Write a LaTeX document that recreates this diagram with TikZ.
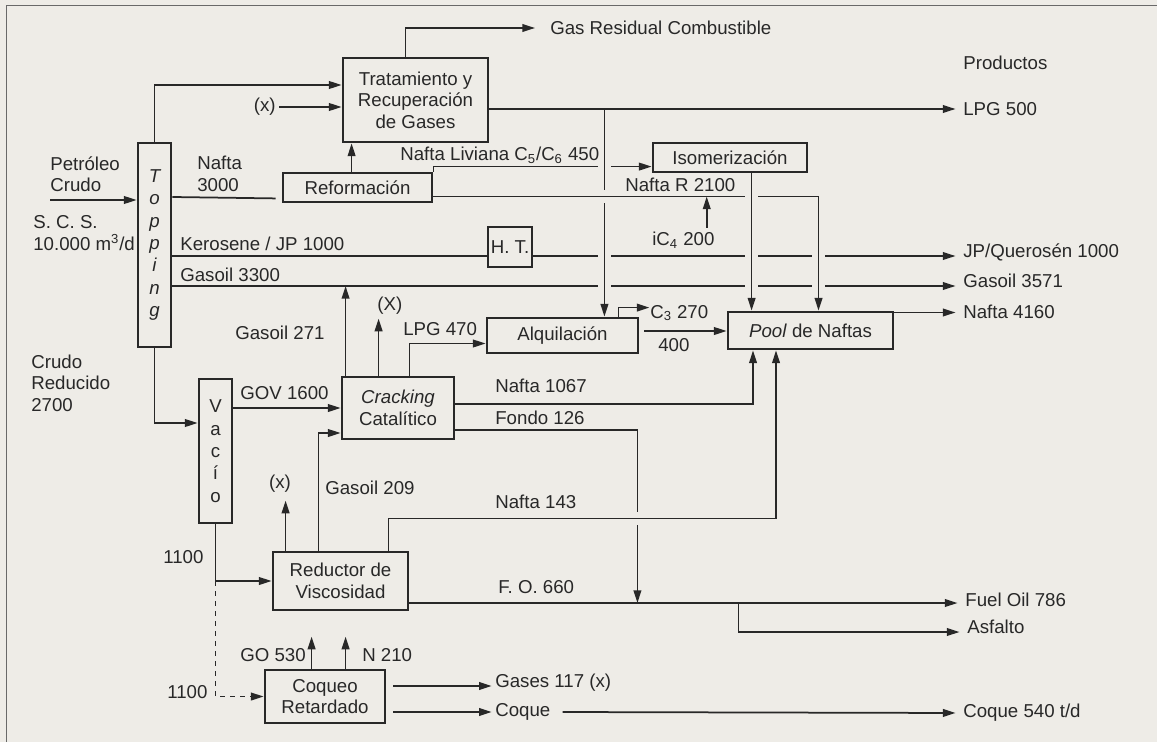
\documentclass[tikz,border=0pt]{standalone}
\usepackage{fontspec}
\setmainfont{Liberation Sans}
\usepackage{xcolor}
\usetikzlibrary{arrows.meta,calc}

\definecolor{paper}{RGB}{238,236,231}
\definecolor{ink}{RGB}{40,40,40}
\newcommand\pxu{0.6pt}
\pgfdeclarelayer{labels}
\pgfsetlayers{main,labels}

\begin{document}
\begin{tikzpicture}[
  x=0.6pt, y=-0.6pt, color=ink,
  font=\fontsize{11.2}{12.9}\selectfont,
  unit/.style 2 args={draw, line width=1.7pt, align=center, inner sep=0pt,
    minimum width=#1*\pxu, minimum height=#2*\pxu},
  tower/.style={unit={33}{#1}, font=\fontsize{11.2}{13.4}\selectfont},
  lbl/.style={anchor=west, inner sep=0pt, align=left},
  pipe/.style={draw, line width=1.05pt},
  flow/.style={pipe, -{Triangle[length=7.6pt, width=4.6pt]}},
  prod/.style={flow, shorten >=4.5pt},
  bridge/.style={preaction={draw=paper, line width=8pt, shorten <=5pt, shorten >=5pt, -}}
]
\fill[paper] (0,0) rectangle (1157,742);
\useasboundingbox (0,0) rectangle (1157,742);
\draw[ink!70, line width=0.6pt] (6,742) -- (6,6) -- (1157,6);

% process units
\node[tower=204, font=\fontsize{11.2}{13.4}\selectfont\itshape] (top) at (154.5,245) {T\\o\\p\\p\\i\\n\\g};
\node[tower=144] (vac) at (215.5,451) {V\\a\\c\\í\\o};
\node[unit={145}{84}] (trat) at (415.5,100) {Tratamiento y\\Recuperación\\de Gases};
\node[unit={149}{29}] (refor) at (357.5,187.5) {Reformación};
\node[unit={154}{29}] (isom) at (730,157.5) {Isomerización};
\node[unit={44}{40}] (ht) at (510,247) {H. T.};
\node[unit={151}{35}] (alq) at (562.5,335.5) {Alquilación};
\node[unit={165}{37}] (pool) at (810.5,330.5) {\textit{Pool} de Naftas};
\node[unit={112}{62}] (crack) at (398,408) {\textit{Cracking}\\Catalítico};
\node[unit={135}{58}] (red) at (340.5,581) {Reductor de\\Viscosidad};
\node[unit={120}{53}] (coq) at (325,696.5) {Coqueo\\Retardado};

% stream labels
\begin{pgfonlayer}{labels}
\node[lbl] (gasres) at (550,28) {Gas Residual Combustible};
\node[lbl] (prodt) at (963,63) {Productos};
\node[lbl] (lpgo) at (963,109) {LPG 500};
\node[lbl, anchor=east] (xtop) at (276,107) {(x)};
\node[lbl] (nliv) at (400,155) {Nafta Liviana C\textsubscript{5}/C\textsubscript{6} 450};
\node[lbl] (petro) at (50,174) {Petróleo\\Crudo};
\node[lbl] (n3000) at (197,174) {Nafta\\3000};
\node[lbl] (nr2100) at (625,185) {Nafta R 2100};
\node[lbl] (scs) at (33,233) {S. C. S.\\10.000 m\textsuperscript{3}/d};
\node[lbl] (kero) at (180,244) {Kerosene / JP 1000};
\node[lbl] (ic4) at (652,240) {iC\textsubscript{4} 200};
\node[lbl] (jpq) at (963,252) {JP/Querosén 1000};
\node[lbl] (g3300) at (180,275) {Gasoil 3300};
\node[lbl] (g3571) at (963,281) {Gasoil 3571};
\node[lbl] (xcr) at (377,306) {(X)};
\node[lbl] (n4160) at (963,312) {Nafta 4160};
\node[lbl] (c3) at (650,313) {C\textsubscript{3} 270};
\node[lbl] (lpg470) at (403,329) {LPG 470};
\node[lbl] (g271) at (235,333) {Gasoil 271};
\node[lbl] (l400) at (658,345) {400};
\node[lbl] (crred) at (31,383) {Crudo\\Reducido\\2700};
\node[lbl] (gov) at (240,393) {GOV 1600};
\node[lbl] (n1067) at (495,386) {Nafta 1067};
\node[lbl] (fondo) at (495,418) {Fondo 126};
\node[lbl, anchor=center] (xred) at (280,484) {(x)};
\node[lbl] (g209) at (325,488) {Gasoil 209};
\node[lbl] (n143) at (495,502) {Nafta 143};
\node[lbl] (v1100) at (163,557) {1100};
\node[lbl] (fo660) at (498,587) {F. O. 660};
\node[lbl] (fuel) at (965,600) {Fuel Oil 786};
\node[lbl] (asf) at (967,627) {Asfalto};
\node[lbl] (go530) at (240,655) {GO 530};
\node[lbl] (n210) at (362,655) {N 210};
\node[lbl] (c1100) at (167,692) {1100};
\node[lbl] (gases) at (495,683) {Gases 117 (x)};
\node[lbl] (coque) at (495,712) {Coque};
\node[lbl] (coque540) at (963,713) {Coque 540 t/d};
\end{pgfonlayer}

% topping
\coordinate (crin) at (50,200);
\draw[flow] (crin) -- (crin -| top.west);
\draw[flow] (top.north) |- ($(trat.west)+(0,-15)$);
\draw[flow] ($(xtop.east)+(3,0)$) -- (xtop.east -| trat.west);
\draw[prod, shorten >=9pt] ($(trat.north west)+(64,0)$) |- (gasres.west);
\draw[prod] (lpgo.west -| trat.east) -- (lpgo.west);
\draw[flow] ($(refor.north west)+(70,0)$) -- ($(trat.south west)+(10,0)$);
\draw[pipe] ($(top.east)+(0,-48)$) -- ($(refor.south west)+(-6,-5)$);
\coordinate (ker) at ($(top.east)+(0,11)$);
\coordinate (gas) at ($(top.east)+(0,41)$);
\draw[pipe] (ker) -- (ker -| ht.west);
\draw[prod] (ker -| ht.east) -- (ker -| jpq.west);
\draw[prod] (gas) -- (gas -| g3571.west);
\draw[flow] (refor.north east) -- ++(0,-5) coordinate (liv) -- (liv -| isom.west);

% crossings (later lines break earlier ones)
\coordinate (tap) at ($(lpgo.west -| trat.east)+(115,0)$);
\draw[flow, bridge] (tap) -- (tap |- alq.north);
\coordinate (nrl) at ($(refor.east)+(0,9)$);
\draw[flow, bridge] (nrl) -| ($(pool.north)+(8,0)$);
\draw[flow, bridge] ($(isom.south west)+(100,0)$) coordinate (isd) -- (isd |- pool.north);
\draw[flow] ($(ic4.north east)+(-8,-4)$) coordinate (ica) -- (ica |- nrl);
\draw[prod] ($(pool.east)+(0,-18)$) coordinate (pe) -- (pe -| n4160.west);

% alquilacion
\draw[flow] ($(alq.north east)+(-21,0)$) |- ++(31,-9);
\draw[flow] ($(alq.east)+(5,-4.5)$) coordinate (alo) -- (alo -| pool.west);

% vacio and cracking
\draw[flow] (top.south) |- ($(vac.west)+(0,-28)$);
\draw[flow] ($(vac.east)+(0,-43)$) -- (crack.west);
\draw[flow] ($(crack.north west)+(5,0)$) coordinate (c271) -- (c271 |- gas);
\draw[flow] ($(crack.north west)+(38,0)$) -- ++(0,-57);
\draw[flow] ($(crack.north west)+(69,0)$) |- ($(alq.west)+(0,8)$);
\draw[flow] ($(crack.east)+(0,-4)$) -| ($(pool.south)+(-57.5,0)$);
\coordinate (fol) at ($(red.east)+(0,22)$);
\draw[flow] ($(crack.east)+(0,22)$) -| ($(fol)+(228,0)$);

% reductor and coqueo
\draw[flow] (vac.south) |- (red.west);
\draw[flow, dashed] (vac.south |- red.west) |- (coq.west);
\draw[flow] ($(red.north west)+(14,0)$) -- ++(0,-50);
\draw[flow] ($(red.north west)+(47,0)$) |- ($(crack.west)+(0,25)$);
\draw[flow, bridge] ($(red.north east)+(-21,0)$) -- ++(0,-32) -| ($(pool.south)+(-34.5,0)$);
\draw[prod] (fol) -- (fol -| fuel.west);
\draw[prod] ($(fol)+(329,0)$) -- ++(0,29) coordinate (asd) -- (asd -| asf.west);
\draw[flow] ($(coq.north west)+(48,0)$) -- ++(0,-32);
\draw[flow] ($(coq.north west)+(82,0)$) -- ++(0,-32);
\draw[flow, shorten >=2pt] ($(coq.east)+(7,-10.5)$) coordinate (cga) -- (cga -| gases.west);
\draw[flow, shorten >=2pt] ($(coq.east)+(7,15.5)$) coordinate (cco) -- (cco -| coque.west);
\draw[prod] ($(coque.east)+(12,0)$) -- (coque540.west);
\end{tikzpicture}
\end{document}
